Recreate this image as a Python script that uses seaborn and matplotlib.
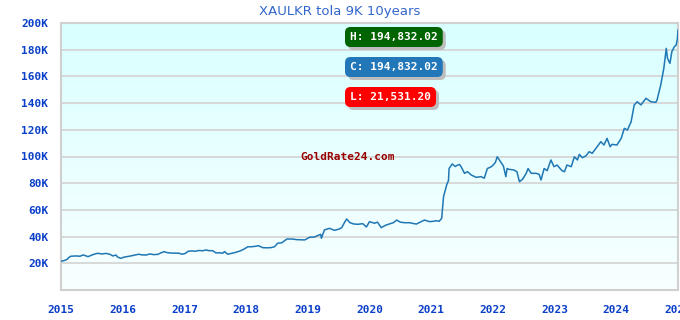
import numpy as np
import pandas as pd
import matplotlib
matplotlib.use("Agg")
import matplotlib.pyplot as plt
import matplotlib.transforms as mtransforms
import seaborn as sns

# ---- data ----
years = [2015.00, 2015.05, 2015.10, 2015.13, 2015.16, 2015.24, 2015.31, 2015.36, 2015.40, 2015.44,
         2015.49, 2015.55, 2015.60, 2015.66, 2015.73, 2015.79, 2015.84, 2015.89, 2015.92, 2015.97,
         2016.02, 2016.07, 2016.13, 2016.20, 2016.26, 2016.31, 2016.38, 2016.44, 2016.50, 2016.57,
         2016.62, 2016.67, 2016.72, 2016.78, 2016.84, 2016.91, 2016.96, 2017.01, 2017.06, 2017.12,
         2017.18, 2017.23, 2017.30, 2017.35, 2017.39, 2017.46, 2017.51, 2017.57, 2017.62, 2017.65,
         2017.70, 2017.77, 2017.83, 2017.90, 2017.96, 2018.03, 2018.09, 2018.16, 2018.20, 2018.27,
         2018.35, 2018.41, 2018.46, 2018.51, 2018.58, 2018.66, 2018.74, 2018.83, 2018.95, 2019.03,
         2019.11, 2019.16, 2019.21, 2019.22, 2019.27, 2019.35, 2019.43, 2019.50, 2019.55, 2019.60,
         2019.63, 2019.68, 2019.74, 2019.81, 2019.89, 2019.95, 2020.00, 2020.08, 2020.13, 2020.19,
         2020.26, 2020.32, 2020.39, 2020.44, 2020.50, 2020.57, 2020.65, 2020.71, 2020.76, 2020.83,
         2020.89, 2020.97, 2021.04, 2021.08, 2021.13, 2021.17, 2021.20, 2021.23, 2021.25, 2021.28,
         2021.29, 2021.34, 2021.39, 2021.43, 2021.46, 2021.49, 2021.54, 2021.59, 2021.65, 2021.70,
         2021.73, 2021.81, 2021.86, 2021.91, 2021.96, 2021.99, 2022.04, 2022.07, 2022.14, 2022.17,
         2022.21, 2022.23, 2022.26, 2022.34, 2022.39, 2022.43, 2022.48, 2022.54, 2022.57, 2022.62,
         2022.70, 2022.75, 2022.78, 2022.83, 2022.88, 2022.94, 2022.99, 2023.04, 2023.12, 2023.16,
         2023.20, 2023.27, 2023.32, 2023.37, 2023.40, 2023.45, 2023.51, 2023.56, 2023.61, 2023.67,
         2023.75, 2023.80, 2023.85, 2023.90, 2023.93, 2024.01, 2024.08, 2024.13, 2024.18, 2024.24,
         2024.29, 2024.34, 2024.40, 2024.48, 2024.56, 2024.64, 2024.66, 2024.72, 2024.77, 2024.81,
         2024.83, 2024.87, 2024.90, 2024.94, 2024.97, 2024.99, 2025.00]

prices_k = [21.53, 22.0, 23.0, 24.5, 25.3, 25.5, 25.3, 26.3, 25.6, 25.0,
            26.0, 27.0, 27.5, 27.0, 27.4, 26.8, 25.5, 26.2, 24.6, 23.7,
            24.6, 25.0, 25.5, 26.2, 26.8, 26.3, 26.2, 27.0, 26.5, 26.7,
            27.8, 28.7, 28.0, 27.7, 27.6, 27.6, 26.8, 27.3, 29.0, 29.3,
            29.0, 29.6, 29.4, 30.0, 29.5, 29.4, 27.8, 27.9, 27.5, 28.8,
            26.8, 27.5, 28.2, 29.2, 30.5, 32.4, 32.4, 32.8, 33.2, 31.7,
            31.6, 31.8, 32.4, 35.0, 35.4, 38.2, 38.2, 37.7, 37.5, 39.5,
            39.7, 40.8, 41.7, 38.7, 45.0, 46.2, 44.7, 45.5, 46.7, 51.0,
            53.2, 50.5, 49.5, 49.2, 49.7, 47.2, 51.2, 50.0, 50.8, 46.7,
            48.5, 49.4, 50.5, 52.4, 50.8, 50.4, 50.4, 49.8, 49.4, 51.0,
            52.4, 51.2, 51.5, 51.9, 51.5, 53.7, 69.9, 75.0, 78.6, 82.0,
            91.0, 94.4, 92.5, 93.6, 94.0, 91.9, 87.4, 88.6, 86.1, 85.0,
            84.4, 84.9, 83.7, 91.0, 92.0, 92.9, 95.5, 99.8, 94.9, 92.9,
            84.9, 91.0, 90.4, 89.9, 88.6, 81.1, 82.9, 87.4, 91.0, 87.4,
            87.4, 86.6, 82.4, 91.0, 89.4, 97.4, 92.4, 93.6, 89.4, 88.6,
            93.6, 92.4, 99.8, 97.4, 101.6, 99.1, 100.6, 103.6, 102.4, 106.1,
            111.1, 108.6, 113.6, 107.3, 109.1, 108.6, 113.6, 121.1, 119.8, 126.0,
            138.6, 141.0, 138.6, 143.6, 141.0, 140.6, 142.3, 153.5, 166.0, 181.0,
            173.5, 169.8, 178.5, 182.2, 183.5, 188.0, 194.832]

y_ticks = [20000, 40000, 60000, 80000, 100000, 120000, 140000, 160000, 180000, 200000]
y_tick_labels = ["20K", "40K", "60K", "80K", "100K", "120K", "140K", "160K", "180K", "200K"]
x_ticks = [2015, 2016, 2017, 2018, 2019, 2020, 2021, 2022, 2023, 2024, 2025]
x_tick_labels = [str(v) for v in x_ticks]

title = "XAULKR tola 9K 10years"
high_label = "H: 194,832.02"
close_label = "C: 194,832.02"
low_label = "L: 21,531.20"
watermark = "GoldRate24.com"

df = pd.DataFrame({"year": years, "price": np.array(prices_k) * 1000})

# ---- styling ----
sns.set_style("white")
plt.rcParams["font.family"] = ["DejaVu Sans"]

W, H = 680, 320
fig = plt.figure(figsize=(W / 100, H / 100), dpi=100)
fig.patch.set_facecolor("white")
ax = fig.add_axes([61 / W, 30 / H, 617 / W, 267 / H])

# gradient background (light cyan at top fading to near white at bottom)
grad = np.linspace(0, 1, 256).reshape(-1, 1)
top = np.array([217, 255, 255]) / 255
bot = np.array([248, 255, 255]) / 255
img = top[None, None, :] * (1 - grad[:, :, None]) + bot[None, None, :] * grad[:, :, None]
ax.imshow(img, extent=[2015, 2025.0, 0, 200000], origin="upper", aspect="auto", zorder=0)

sns.lineplot(data=df, x="year", y="price", ax=ax, color="#1f77b4", linewidth=1.1, zorder=3)

ax.set_xlim(2015, 2025.0)
ax.set_ylim(0, 200000)
ax.set_yticks(y_ticks)
ax.set_yticklabels(y_tick_labels)
ax.set_xticks(x_ticks)
ax.set_xticklabels(x_tick_labels)
ax.set_xlabel("")
ax.set_ylabel("")
ax.grid(axis="y", color="#d6d6d6", linewidth=1.3, zorder=1)
ax.grid(axis="x", visible=False)
for s in ax.spines.values():
    s.set_color("#d0d0d0")
    s.set_linewidth(1.5)

ax.tick_params(axis="both", length=0, colors="#0a3fc8")
ax.tick_params(axis="y", pad=9)
ax.tick_params(axis="x", pad=11)
for lab in ax.get_xticklabels() + ax.get_yticklabels():
    lab.set_fontfamily("DejaVu Sans Mono")
    lab.set_fontweight("bold")
    lab.set_fontsize(8)
    lab.set_color("#0a3fc8")

fig.text(340 / W, 1 - 11 / H, title, ha="center", va="center",
         fontsize=9.5, color="#3366cc", family="DejaVu Sans")

def badge(y_px, text, fc):
    kw = dict(ha="left", va="center", fontsize=8, family="DejaVu Sans Mono",
              weight="bold", color="white")
    sh = mtransforms.offset_copy(fig.transFigure, fig=fig, x=3, y=-3, units="dots")
    fig.text(350 / W, 1 - y_px / H, text, transform=sh, zorder=4,
             bbox=dict(boxstyle="round,pad=0.45,rounding_size=0.5", fc="#bdbdbd", ec="none"),
             **{**kw, "color": "#bdbdbd"})
    fig.text(350 / W, 1 - y_px / H, text, zorder=5,
             bbox=dict(boxstyle="round,pad=0.45,rounding_size=0.5", fc=fc, ec="none"), **kw)

badge(37, high_label, "#006400")
badge(67, close_label, "#2277b8")
badge(97, low_label, "#ff0000")

fig.text(348 / W, 1 - 157 / H, watermark, ha="center", va="center", fontsize=8,
         family="DejaVu Sans Mono", weight="bold", color="#990000", zorder=5)

fig.savefig("out.png", dpi=100, facecolor="white")
